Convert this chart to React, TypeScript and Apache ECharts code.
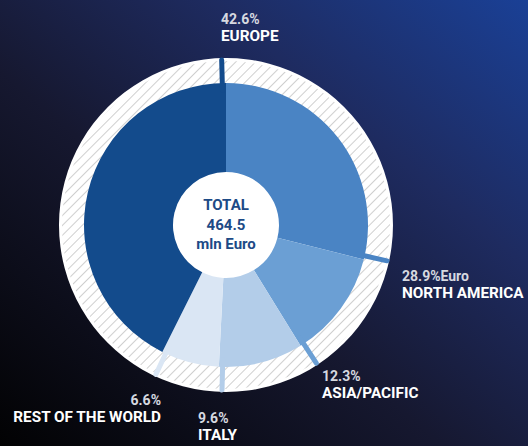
import React, { useEffect, useRef } from 'react';
import * as echarts from 'echarts';

// ---- data ----
const regions = ['NORTH AMERICA', 'ASIA/PACIFIC', 'ITALY', 'REST OF THE WORLD', 'EUROPE'];
const shares = [28.9, 12.3, 9.6, 6.6, 42.6];
const shareSuffix = ['Euro', '', '', '', ''];
const totalLines = ['TOTAL', '464.5', 'mln Euro'];

// ---- style / layout ----
const sliceColors = ['#4a84c4', '#6b9fd4', '#b3cde9', '#dae6f4', '#134b8c'];
const labelPos: { x: number; y: number; align: 'left' | 'right' }[] = [
  { x: 402, y: 284.5, align: 'left' },
  { x: 322, y: 384.5, align: 'left' },
  { x: 198, y: 426.5, align: 'left' },
  { x: 161, y: 408.5, align: 'right' },
  { x: 221, y: 27.5, align: 'left' },
];
const CX = 226;
const CY = 225;
const FONT = 'Roboto, "Noto Sans", sans-serif';

export default function App() {
  const ref = useRef<HTMLDivElement>(null);
  useEffect(() => {
    if (!ref.current) return;
    const chart = echarts.init(ref.current, undefined, { renderer: 'svg' });
    const total = shares.reduce((a, b) => a + b, 0);
    let acc = 0;
    const ends = shares.map((v) => (acc += v) / total);

    const texts: any[] = [];
    regions.forEach((name, i) => {
      const p = labelPos[i];
      texts.push({
        type: 'text',
        x: p.x,
        y: p.y,
        silent: true,
        style: {
          text: `{p|${shares[i].toFixed(1)}%${shareSuffix[i]}}\n{n|${name}}`,
          textAlign: p.align,
          textVerticalAlign: 'middle',
          rich: {
            p: {
              fill: '#d6d9e0',
              font: `bold 14px ${FONT}`,
              lineHeight: 17.5,
              align: p.align,
            },
            n: {
              fill: '#ffffff',
              font: `bold 15.3px ${FONT}`,
              lineHeight: 17.5,
              align: p.align,
            },
          },
        },
      });
    });
    texts.push({
      type: 'text',
      x: CX,
      y: 224.5,
      silent: true,
      z: 20,
      style: {
        text: totalLines.join('\n'),
        fill: '#1d4a86',
        font: `bold 15px ${FONT}`,
        lineHeight: 19.3,
        textAlign: 'center',
        textVerticalAlign: 'middle',
      },
    });

    const R1 = 135;
    const R2 = 165;
    const OFF = (1.5 * Math.PI) / 180;

    chart.setOption({
      animation: false,
      backgroundColor: new echarts.graphic.LinearGradient(0, 1, 1, 0, [
        { offset: 0, color: '#020203' },
        { offset: 0.42, color: '#161830' },
        { offset: 0.7, color: '#1e2b60' },
        { offset: 1, color: '#1a4096' },
      ]),
      graphic: texts,
      series: [
        {
          type: 'pie',
          silent: true,
          center: [CX, CY],
          radius: [0, 167],
          label: { show: false },
          labelLine: { show: false },
          itemStyle: { color: '#ffffff' },
          data: [{ value: 1 }],
          z: 1,
        },
        {
          type: 'pie',
          silent: true,
          center: [CX, CY],
          radius: [141, 164],
          label: { show: false },
          labelLine: { show: false },
          itemStyle: {
            color: '#ffffff',
            decal: {
              symbol: 'rect',
              symbolSize: 1,
              dashArrayX: [1, 0],
              dashArrayY: [1, 6],
              rotation: -Math.PI / 4,
              color: '#cfcfcf',
            },
          },
          data: [{ value: 1 }],
          z: 2,
        },
        {
          type: 'pie',
          silent: true,
          center: [CX, CY],
          radius: [53, 142],
          startAngle: 90,
          clockwise: true,
          label: { show: false },
          labelLine: { show: false },
          data: regions.map((n, i) => ({
            name: n,
            value: shares[i],
            itemStyle: { color: sliceColors[i] },
          })),
          z: 3,
        },
        {
          type: 'custom',
          coordinateSystem: 'none',
          silent: true,
          z: 10,
          data: ends.map((e) => [e]),
          renderItem: (params: any, api: any) => {
            const f = api.value(0);
            const a = f * 2 * Math.PI - OFF;
            const sx = Math.sin(a);
            const sy = -Math.cos(a);
            return {
              type: 'line',
              shape: {
                x1: CX + R1 * sx,
                y1: CY + R1 * sy,
                x2: CX + R2 * sx,
                y2: CY + R2 * sy,
              },
              style: {
                stroke: sliceColors[params.dataIndex],
                lineWidth: 5,
                lineCap: 'round',
              },
            };
          },
        },
      ],
    });
    return () => chart.dispose();
  }, []);
  return (
    <div
      ref={ref}
      style={{ position: 'absolute', left: 0, top: 0, width: 528, height: 446 }}
    />
  );
}
